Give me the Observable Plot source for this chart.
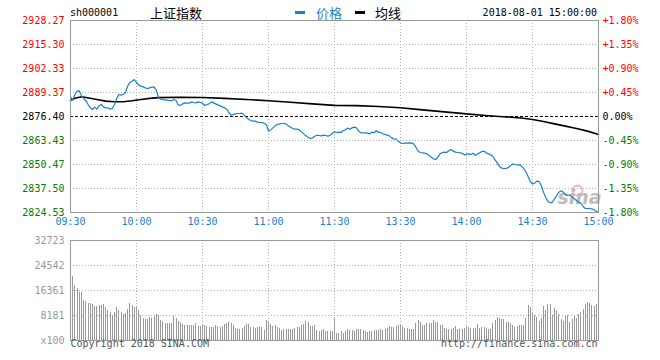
<!DOCTYPE html>
<html><head><meta charset="utf-8">
<script src="https://cdn.jsdelivr.net/npm/d3@7"></script>
<script src="https://cdn.jsdelivr.net/npm/@observablehq/plot@0.6"></script>
<style>
body{margin:0;background:#fff;}
#wrap{position:relative;width:660px;height:360px;overflow:hidden;font-family:"DejaVu Sans Mono",monospace;background:#fff;}
#wrap svg{position:absolute;left:0;}
.h{position:absolute;white-space:nowrap;line-height:1;}
.mono{font-family:"DejaVu Sans Mono",monospace;font-size:10px;}
.cjk{font-family:"Noto Sans CJK SC",sans-serif;font-size:13px;}
.dash{position:absolute;width:10px;height:3px;}
</style></head><body><div id="wrap"></div>
<script>
const symbol = "sh000001";
const indexName = "上证指数";
const legendNames = ["价格", "均线"];
const stamp = "2018-08-01 15:00:00";
const copyrightText = "Copyright 2018 SINA.COM";
const siteText = "http://finance.sina.com.cn";
const timeTicks = [0, 30, 60, 90, 120, 150, 180, 210, 240];
const timeLabels = ["09:30", "10:00", "10:30", "11:00", "11:30", "13:30", "14:00", "14:30", "15:00"];
const priceTicks = [2928.27, 2915.30, 2902.33, 2889.37, 2876.40, 2863.43, 2850.47, 2837.50, 2824.53];
const pctLabels = ["+1.80%", "+1.35%", "+0.90%", "+0.45%", "0.00%", "-0.45%", "-0.90%", "-1.35%", "-1.80%"];
const prevClose = 2876.40;
const volTicks = [32723, 24542, 16361, 8181, 0];
const volLabels = ["32723", "24542", "16361", "8181", "x100"];

// one price per minute, 09:30..11:30 then 13:01..15:00
const price = [
2887.02,2885.22,2888.29,2890.09,2890.27,2887.57,2886.13,2884.87,2882.89,2881.08,
2880.18,2881.44,2880.36,2882.16,2882.89,2881.62,2881.08,2881.08,2880.36,2880.72,
2882.89,2886.13,2888.29,2887.93,2888.29,2889.37,2892.97,2894.77,2895.49,2896.39,
2894.77,2893.33,2892.79,2892.43,2891.89,2891.53,2891.89,2892.25,2892.43,2890.63,
2886.49,2885.77,2885.59,2885.22,2885.22,2885.05,2884.87,2885.59,2885.05,2882.52,
2882.52,2883.24,2883.78,2883.60,2883.60,2884.32,2883.96,2883.78,2884.32,2883.96,
2883.60,2882.34,2882.89,2883.24,2884.32,2883.78,2883.24,2882.70,2882.16,2881.62,
2881.08,2880.36,2878.56,2877.12,2877.48,2877.84,2878.02,2878.02,2878.20,2877.12,
2875.68,2874.96,2874.24,2873.88,2873.88,2873.34,2873.16,2873.16,2872.80,2872.08,
2868.48,2869.20,2870.28,2871.36,2872.08,2872.44,2872.62,2872.62,2872.44,2871.36,
2870.64,2869.92,2869.56,2869.56,2869.20,2868.12,2867.04,2865.95,2865.23,2864.51,
2864.87,2865.77,2866.31,2866.13,2865.95,2866.31,2866.13,2865.77,2866.31,2867.22,
2868.12,
2867.76,2867.94,2867.76,2868.84,2869.20,2870.10,2869.56,2870.28,2870.64,2870.28,
2868.48,2867.58,2867.58,2867.58,2867.40,2867.04,2867.94,2867.58,2868.84,2867.94,
2867.76,2867.04,2866.68,2866.32,2865.95,2864.87,2864.33,2864.15,2863.07,2862.17,
2861.81,2861.99,2861.99,2862.17,2861.99,2861.63,2859.83,2857.67,2856.95,2856.77,
2856.59,2856.23,2855.33,2854.43,2853.53,2853.17,2854.43,2856.23,2856.95,2857.13,
2856.95,2858.03,2858.57,2857.67,2857.13,2856.95,2856.77,2856.59,2855.69,2856.05,
2856.23,2855.87,2856.59,2855.33,2856.23,2856.77,2857.49,2857.67,2856.77,2856.23,
2855.69,2854.79,2852.99,2851.19,2849.39,2848.49,2848.31,2848.31,2848.85,2849.75,
2850.83,2850.47,2850.29,2850.29,2849.57,2848.31,2846.50,2843.98,2841.28,2840.02,
2840.38,2841.46,2841.28,2839.12,2835.52,2832.82,2830.48,2829.76,2830.12,2831.92,
2833.72,2835.52,2836.24,2835.52,2834.08,2833.72,2834.08,2832.82,2831.92,2831.02,
2830.12,2829.58,2827.78,2826.70,2826.70,2826.70,2826.52,2825.97,2825.25,2824.53
];

const avgMinutes = [0,2,5,9,12,16,20,24,28,32,36,40,50,60,70,80,90,100,110,120,130,140,150,160,170,180,190,200,205,210,215,220,225,230,235,240];
const avgValues = [2885.1,2886.3,2887.1,2886.3,2885.6,2884.7,2884.4,2884.4,2884.9,2885.6,2886.2,2886.6,2886.8,2886.7,2886.2,2885.6,2884.9,2884.1,2883.2,2882.4,2882.3,2881.8,2881.1,2880.0,2878.9,2877.8,2876.8,2876.0,2875.6,2874.8,2873.7,2872.4,2871.2,2869.9,2868.5,2866.7];

// volume per minute, in units of 100
const volume = [
32723,
20862,17897,17129,15811,15811,13176,12847,11968,11968,11639,
11200,11200,11309,11309,11639,10651,9662,9223,8235,9223,
10870,9882,9223,8564,8784,10211,11968,11309,10870,10980,
9662,8125,7247,6917,6917,7576,7247,8235,8564,8235,
6588,6259,5490,5490,5490,5490,8015,7247,6368,5819,
5161,4941,4941,4941,4941,4941,5490,4721,4612,5270,
4941,4612,4392,4282,4282,4941,4612,4392,4612,5161,
5490,5929,5600,4941,3953,3623,3514,3953,4612,5161,
5380,4282,4282,4063,4282,4612,4282,3294,6588,6368,
5270,4502,4941,4392,3953,3294,3623,3514,3514,3623,
3514,3953,4282,4282,4941,5161,6259,5929,4612,4612,
4941,3294,3074,3294,3623,2965,2965,2965,2965,7466,
2306,2306,2965,2306,2965,3514,3294,3294,2965,3623,
3623,3623,3294,2965,2745,2965,2965,3294,3294,3294,
3623,3294,3623,3953,4612,4282,4282,4612,4941,5270,
4612,3953,3953,3623,3623,3623,5600,6588,5929,4941,
4941,5600,5600,5600,6588,5929,5929,4941,4941,3953,
3623,3623,3623,3953,4612,3623,3623,3623,3953,4612,
4282,3953,3953,3953,5270,3953,4282,4282,3953,3623,
3623,5600,6588,7576,7247,6917,6917,5929,5929,5600,
4941,4282,4612,4941,4941,4941,7247,11529,10870,9223,
8235,7576,6259,7247,11200,9882,11858,11858,8235,10541,
9882,8564,6917,6259,8235,8235,5929,6917,7906,7247,
8564,9223,10211,11858,12517,12188,11529,11200,11858,14823
];

const BLUE = "#1a80d2", RED = "#ff0000", GREEN = "#008000", GRID = "#b0b0b0", FRAME = "#999";
const tone = v => v > prevClose + 1e-6 ? RED : v < prevClose - 1e-6 ? GREEN : "#000";
const priceData = price.map((v, i) => ({i, v}));
const avgData = avgMinutes.map((m, k) => ({i: m, v: avgValues[k]}));
const volData = volume.map((v, i) => ({i, v}));
const innerTimes = timeTicks.slice(1, -1);

const mono = {fontFamily: "DejaVu Sans Mono", fontSize: 10};

const main = Plot.plot({
  width: 660, height: 236,
  marginTop: 20, marginBottom: 24, marginLeft: 70, marginRight: 62,
  style: {background: "transparent", overflow: "visible"},
  x: {domain: [0, 240], axis: null},
  y: {domain: [priceTicks[8], priceTicks[0]], axis: null},
  marks: [
    Plot.ruleX(innerTimes, {x: d => d, stroke: GRID, strokeDasharray: "1,2"}),
    Plot.ruleY(priceTicks.filter(t => t !== prevClose && t !== priceTicks[0] && t !== priceTicks[8]), {y: d => d, stroke: GRID, strokeDasharray: "1,2"}),
    Plot.ruleY([prevClose], {y: d => d, stroke: "#000", strokeDasharray: "3,2"}),
    Plot.dot(["logo"], {frameAnchor: "bottom-right", dx: -21, dy: -22, r: 5, stroke: "#f4a0a8", strokeWidth: 2, fill: "none", strokeOpacity: 0.8}),
    Plot.text(["sina"], {frameAnchor: "bottom-right", dx: -19, dy: -9, fontSize: 19, fontWeight: "bold", fontStyle: "italic", fill: "#bdbdbd", fontFamily: "DejaVu Sans", textAnchor: "middle"}),
    Plot.line(avgData, {x: "i", y: "v", stroke: "#000", strokeWidth: 1.6}),
    Plot.line(priceData, {x: "i", y: "v", stroke: BLUE, strokeWidth: 1.2}),
    Plot.frame({stroke: FRAME}),
    Plot.text(priceTicks, {y: d => d, text: d => d.toFixed(2), frameAnchor: "left", textAnchor: "end", dx: -6, fill: tone, ...mono}),
    Plot.text(priceTicks, {y: d => d, text: (d, i) => pctLabels[i], frameAnchor: "right", textAnchor: "start", dx: 4, fill: tone, ...mono}),
    Plot.text(timeTicks, {x: d => d, text: (d, i) => timeLabels[i], frameAnchor: "bottom", dy: 12, fill: BLUE, ...mono})
  ]
});
main.style.top = "0px";

const vol = Plot.plot({
  width: 660, height: 130,
  marginTop: 10, marginBottom: 20, marginLeft: 70, marginRight: 62,
  style: {background: "transparent", overflow: "visible"},
  x: {domain: [0, 240], axis: null},
  y: {domain: [0, volTicks[0]], axis: null},
  marks: [
    Plot.ruleX(volData, {x: "i", y1: 0, y2: "v", stroke: "#999", strokeWidth: 1, shapeRendering: "crispEdges"}),
    Plot.ruleX(innerTimes, {x: d => d, stroke: GRID, strokeDasharray: "1,2"}),
    Plot.ruleY(volTicks.slice(1, -1), {y: d => d, stroke: GRID, strokeDasharray: "1,2"}),
    Plot.frame({stroke: FRAME}),
    Plot.text(volTicks, {y: d => d, text: (d, i) => volLabels[i], frameAnchor: "left", textAnchor: "end", dx: -6, fill: "#999", ...mono}),
    Plot.text([copyrightText], {frameAnchor: "bottom-left", textAnchor: "start", dy: 6, fill: "#555", ...mono}),
    Plot.text([siteText], {frameAnchor: "bottom-right", textAnchor: "end", dy: 6, dx: -1, fill: "#555", ...mono})
  ]
});
vol.style.top = "230px";

const wrap = document.getElementById("wrap");
wrap.appendChild(main);
wrap.appendChild(vol);

function addText(txt, cls, left, top, color, right) {
  const s = document.createElement("span");
  s.className = "h " + cls;
  s.textContent = txt;
  s.style.top = top + "px";
  if (right != null) s.style.right = right + "px"; else s.style.left = left + "px";
  s.style.color = color;
  wrap.appendChild(s);
}
function addDash(left, color) {
  const d = document.createElement("div");
  d.className = "dash";
  d.style.left = left + "px"; d.style.top = "11px"; d.style.background = color;
  wrap.appendChild(d);
}
addText(symbol, "mono", 70, 8, "#000");
addText(indexName, "cjk", 150, 6, "#000");
addDash(295, BLUE);
addText(legendNames[0], "cjk", 316, 6, BLUE);
addDash(355, "#000");
addText(legendNames[1], "cjk", 375, 6, "#000");
addText(stamp, "mono", null, 8, "#000", 63);
</script></body></html>
